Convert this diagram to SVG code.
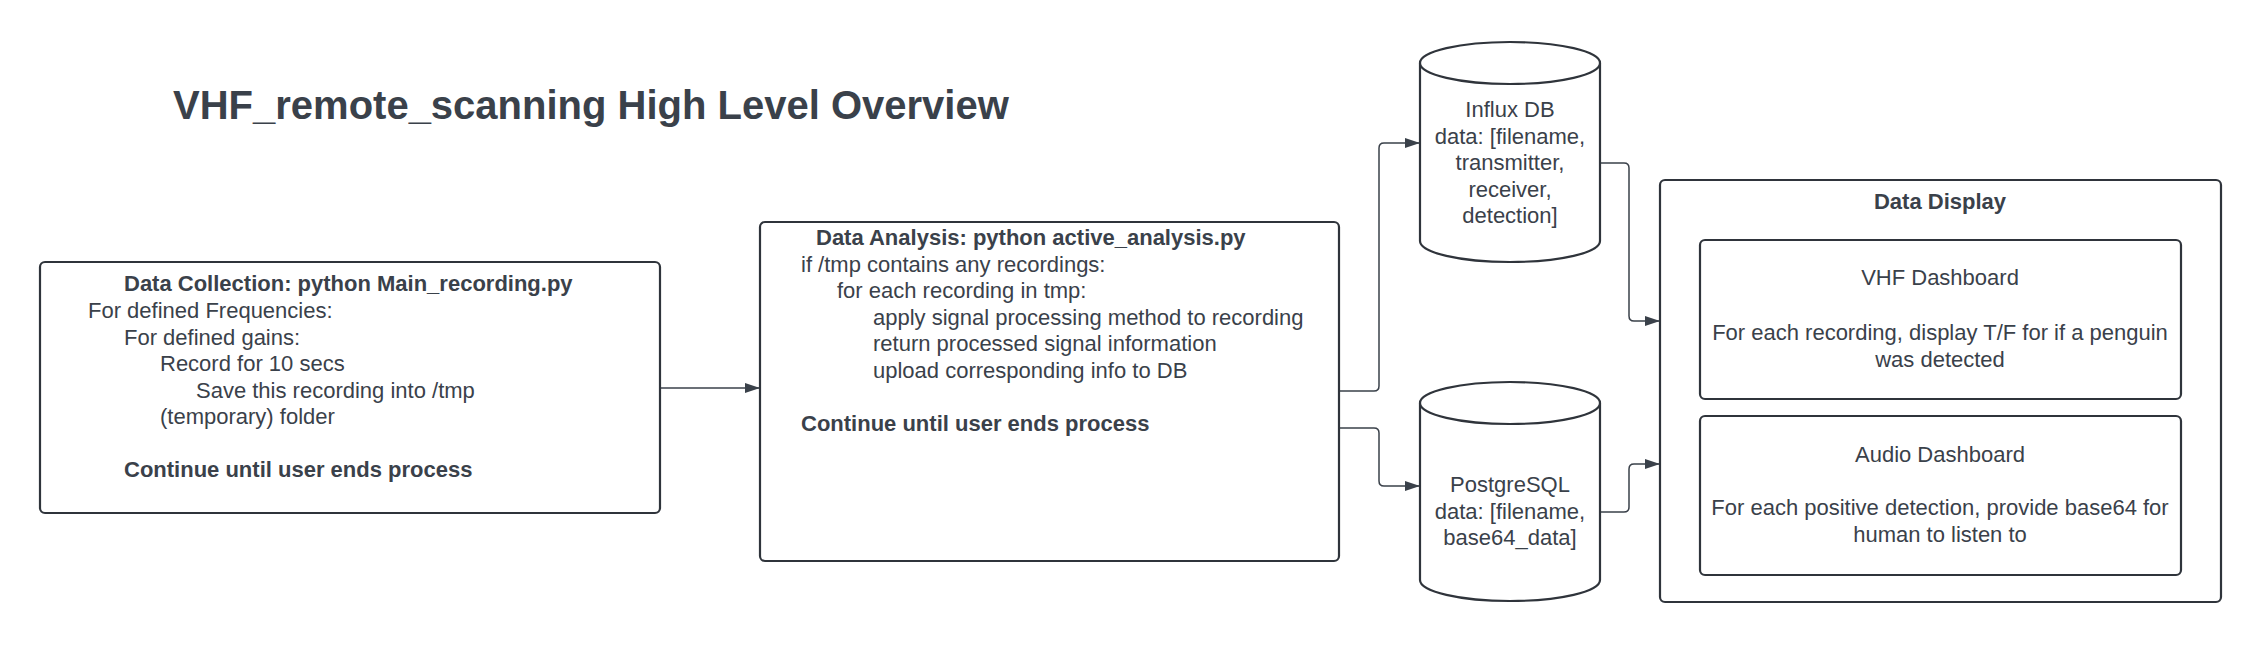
<svg xmlns="http://www.w3.org/2000/svg" width="2260" height="662" viewBox="0 0 2260 662">
<defs>
<style>
.t{font-family:"Liberation Sans",Arial,sans-serif;font-size:22px;fill:#3a414a}
.b{font-weight:bold}
.c{text-anchor:middle}
.title{font-family:"Liberation Sans",Arial,sans-serif;font-size:40px;font-weight:bold;fill:#3a414a}
.box{fill:#fff;stroke:#2f343b;stroke-width:2.2}
.conn{fill:none;stroke:#3a414a;stroke-width:1.5}
</style>
<marker id="arr" markerUnits="userSpaceOnUse" markerWidth="16" markerHeight="12" refX="15" refY="6" orient="auto">
<path d="M0,1 L15,6 L0,11 z" fill="#3a414a"/>
</marker>
</defs>
<rect width="2260" height="662" fill="#fff"/>
<text class="title" x="173" y="119">VHF_remote_scanning High Level Overview</text>

<g id="connectors">
<path class="conn" d="M660,388 H760" marker-end="url(#arr)"/>
<path class="conn" d="M1339,391 H1374 Q1379,391 1379,386 V148 Q1379,143 1384,143 H1420" marker-end="url(#arr)"/>
<path class="conn" d="M1339,428 H1374 Q1379,428 1379,433 V481 Q1379,486 1384,486 H1420" marker-end="url(#arr)"/>
<path class="conn" d="M1600,163 H1624 Q1629,163 1629,168 V316 Q1629,321 1634,321 H1660" marker-end="url(#arr)"/>
<path class="conn" d="M1600,512 H1624 Q1629,512 1629,507 V469 Q1629,464 1634,464 H1660" marker-end="url(#arr)"/>
</g>

<g id="data-collection">
<rect class="box" x="40" y="262" width="620" height="251" rx="5"/>
<text class="t b" x="124" y="291">Data Collection: python Main_recording.py</text>
<text class="t" x="88" y="318">For defined Frequencies:</text>
<text class="t" x="124" y="344.5">For defined gains:</text>
<text class="t" x="160" y="371">Record for 10 secs</text>
<text class="t" x="196" y="397.5">Save this recording into /tmp</text>
<text class="t" x="160" y="424">(temporary) folder</text>
<text class="t b" x="124" y="477">Continue until user ends process</text>
</g>

<g id="data-analysis">
<rect class="box" x="760" y="222" width="579" height="339" rx="5"/>
<text class="t b" x="816" y="245">Data Analysis: python active_analysis.py</text>
<text class="t" x="801" y="271.5">if /tmp contains any recordings:</text>
<text class="t" x="837" y="298">for each recording in tmp:</text>
<text class="t" x="873" y="324.5">apply signal processing method to recording</text>
<text class="t" x="873" y="351">return processed signal information</text>
<text class="t" x="873" y="377.5">upload corresponding info to DB</text>
<text class="t b" x="801" y="430.5">Continue until user ends process</text>
</g>

<g id="influx-db">
<path class="box" d="M1420,63 V241 A90,21 0 0 0 1600,241 V63"/>
<ellipse class="box" cx="1510" cy="63" rx="90" ry="21"/>
<text class="t c" x="1510" y="117">Influx DB</text>
<text class="t c" x="1510" y="143.5">data: [filename,</text>
<text class="t c" x="1510" y="170">transmitter,</text>
<text class="t c" x="1510" y="196.5">receiver,</text>
<text class="t c" x="1510" y="223">detection]</text>
</g>

<g id="postgresql">
<path class="box" d="M1420,403 V580 A90,21 0 0 0 1600,580 V403"/>
<ellipse class="box" cx="1510" cy="403" rx="90" ry="21"/>
<text class="t c" x="1510" y="492">PostgreSQL</text>
<text class="t c" x="1510" y="518.5">data: [filename,</text>
<text class="t c" x="1510" y="545">base64_data]</text>
</g>

<g id="data-display">
<rect class="box" x="1660" y="180" width="561" height="422" rx="5"/>
<text class="t b c" x="1940" y="209">Data Display</text>
</g>

<g id="vhf-dashboard">
<rect class="box" x="1700" y="240" width="481" height="159" rx="5"/>
<text class="t c" x="1940" y="285">VHF Dashboard</text>
<text class="t c" x="1940" y="340">For each recording, display T/F for if a penguin</text>
<text class="t c" x="1940" y="366.5">was detected</text>
</g>

<g id="audio-dashboard">
<rect class="box" x="1700" y="416" width="481" height="159" rx="5"/>
<text class="t c" x="1940" y="462">Audio Dashboard</text>
<text class="t c" x="1940" y="515">For each positive detection, provide base64 for</text>
<text class="t c" x="1940" y="541.5">human to listen to</text>
</g>
</svg>
